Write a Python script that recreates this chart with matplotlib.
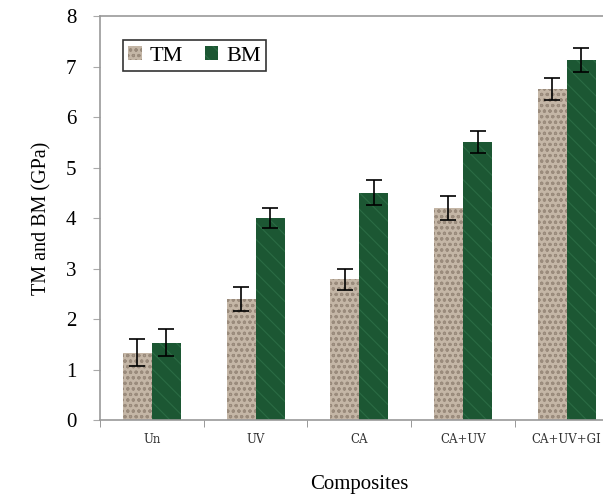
import numpy as np
import matplotlib.pyplot as plt

# Valores
categorias = ['Un', 'UV', 'CA', 'CA+UV', 'CA+UV+GI']
tm = [1.33, 2.40, 2.79, 4.20, 6.55]
bm = [1.53, 4.00, 4.50, 5.50, 7.13]
tm_err = [0.27, 0.24, 0.21, 0.24, 0.22]
bm_err = [0.27, 0.20, 0.25, 0.22, 0.24]

plt.rcParams['font.family'] = ['Liberation Serif', 'DejaVu Serif']
plt.rcParams['hatch.linewidth'] = 0.8

fig = plt.figure(figsize=(6.03, 4.96), dpi=100)
ax = fig.add_axes([0.1658, 0.1532, 0.86, 0.8145])

x = np.arange(len(categorias))
w = 0.28

# barras com textura aproximada por hachura
ax.bar(x - w / 2, tm, w, facecolor='#c4b6a6', hatch='ooo', edgecolor='#9a8b7c',
       linewidth=0, label='TM')
ax.bar(x + w / 2, bm, w, facecolor='#1c5733', hatch='\\\\', edgecolor='#2b6b44',
       linewidth=0, label='BM')
ax.errorbar(x - w / 2, tm, yerr=tm_err, fmt='none', ecolor='black', elinewidth=1.2,
            capsize=6, capthick=1.2)
ax.errorbar(x + w / 2, bm, yerr=bm_err, fmt='none', ecolor='black', elinewidth=1.2,
            capsize=6, capthick=1.2)

ax.set_xlim(-0.5, 4.5)
ax.set_ylim(0, 8)
ax.set_yticks(range(0, 9))
ax.set_xticks(x)
ax.set_xticklabels(categorias, fontsize=8.5, family='DejaVu Serif', color='#333333')
ax.set_xticks(np.arange(-0.5, 5, 1), minor=True)
ax.tick_params(axis='x', which='major', length=0, pad=9)
ax.tick_params(axis='x', which='minor', length=5, color='#888888', direction='out')
ax.tick_params(axis='y', labelsize=15, length=5, color='#aaaaaa', pad=12)

for s in ['left', 'bottom', 'top']:
    ax.spines[s].set_color('#999999')
    ax.spines[s].set_linewidth(1.2)
ax.spines['right'].set_visible(False)

ax.set_ylabel('TM and BM (GPa)', fontsize=14.5, labelpad=10)
ax.set_xlabel('Composites', fontsize=15, labelpad=21)

leg = ax.legend(loc='upper left', bbox_to_anchor=(0.044, 0.94), ncol=2, fontsize=16,
                frameon=True, fancybox=False, handlelength=0.6, handleheight=0.6,
                handletextpad=0.35, columnspacing=1.0, borderpad=0.25, borderaxespad=0)
leg.get_frame().set_edgecolor('black')
leg.get_frame().set_linewidth(1.2)

fig.savefig('out.png', dpi=100)
